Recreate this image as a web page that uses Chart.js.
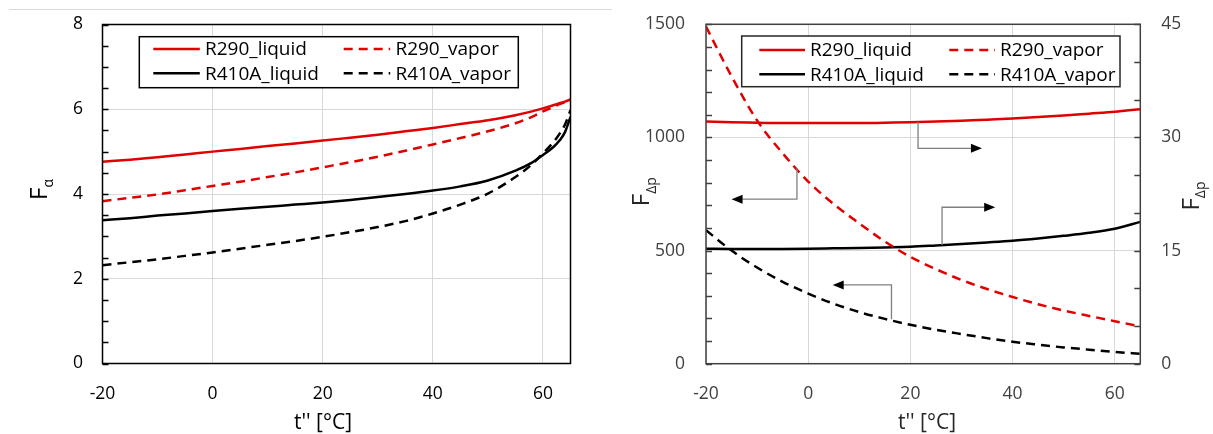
<!DOCTYPE html>
<html>
<head>
<meta charset="utf-8">
<title>F_alpha and F_dp vs t''</title>
<script src="https://cdn.jsdelivr.net/npm/chart.js@4.4.0/dist/chart.umd.min.js"></script>
<style>
  html, body { margin: 0; padding: 0; background: #fff; }
  body { width: 1213px; height: 434px; position: relative; overflow: hidden; }
  .panel { position: absolute; top: 0; height: 434px; }
  #leftPanel { left: 0; width: 610px; }
  #rightPanel { left: 610px; width: 603px; }
  .rule { position: absolute; left: 9px; top: 9px; width: 603px; border-top: 1px solid #dadada; }
</style>
</head>
<body>
<div class="rule"></div>
<div class="panel" id="leftPanel"><canvas id="alphaChart"></canvas></div>
<div class="panel" id="rightPanel"><canvas id="dpChart"></canvas></div>
<script>
// saturation temperature t'' [°C]
const tAlpha = [-20, -15, -10, -5, 0, 5, 10, 15, 20, 25, 30, 35, 40, 45, 50, 55, 58, 60, 62, 63, 64, 65];
const tDp = [-20, -15, -10, -5, 0, 5, 10, 15, 20, 25, 30, 35, 40, 45, 50, 55, 60, 65];

// F_alpha (left panel)
const r290LiquidAlpha = [4.76, 4.81, 4.87, 4.93, 5.00, 5.06, 5.13, 5.19, 5.26, 5.33, 5.40, 5.48, 5.56, 5.65, 5.74, 5.86, 5.95, 6.02, 6.10, 6.14, 6.18, 6.23];
const r290VaporAlpha = [3.83, 3.91, 3.99, 4.09, 4.19, 4.29, 4.40, 4.51, 4.63, 4.75, 4.88, 5.02, 5.17, 5.32, 5.48, 5.67, 5.82, 5.95, 6.06, 6.12, 6.17, 6.22];
const r410aLiquidAlpha = [3.38, 3.43, 3.49, 3.54, 3.60, 3.65, 3.70, 3.75, 3.80, 3.86, 3.93, 4.00, 4.08, 4.18, 4.32, 4.55, 4.74, 4.92, 5.12, 5.26, 5.46, 5.82];
const r410aVaporAlpha = [2.32, 2.39, 2.46, 2.54, 2.62, 2.71, 2.80, 2.89, 2.99, 3.10, 3.22, 3.36, 3.54, 3.75, 4.01, 4.40, 4.70, 4.96, 5.24, 5.42, 5.64, 5.98];

// F_dp (right panel): liquid on the right axis, vapor on the left axis
const r290LiquidDp = [32.1, 32.0, 31.95, 31.9, 31.9, 31.9, 31.9, 31.95, 32.0, 32.1, 32.2, 32.35, 32.5, 32.7, 32.9, 33.15, 33.4, 33.75];
const r290VaporDp = [1490, 1270, 1075, 930, 805, 705, 620, 540, 472, 418, 370, 330, 295, 263, 235, 211, 188, 165];
const r410aLiquidDp = [15.25, 15.22, 15.2, 15.22, 15.25, 15.3, 15.35, 15.42, 15.5, 15.68, 15.88, 16.08, 16.3, 16.6, 16.95, 17.35, 17.9, 18.8];
const r410aVaporDp = [590, 500, 425, 362, 310, 265, 228, 198, 172, 150, 131, 113, 97, 84, 72, 62, 52, 44];

const seriesNames = ['R290_liquid', 'R290_vapor', 'R410A_liquid', 'R410A_vapor'];

// pointer arrows: curve -> axis (x in °C, from/bend in units of the given axis)
const dpArrows = [
  { axis: 'y', x: -2.2, from: 864, bend: 727, tip: -15.0 },
  { axis: 'y1', x: 21.5, from: 32.05, bend: 28.56, tip: 34.0 },
  { axis: 'y1', x: 26.2, from: 15.75, bend: 20.74, tip: 36.6 },
  { axis: 'y', x: 16.3, from: 196, bend: 348, tip: 4.8 }
];

const FONT = "'Open Sans', 'DejaVu Sans', sans-serif";
const RED = '#e00000';
const BLACK = '#000000';
const DASH = [9, 6];

function toPoints(xs, ys) {
  return xs.map((x, i) => ({ x: x, y: ys[i] }));
}

function makeSet(label, xs, ys, color, dashed, axis) {
  return {
    label: label,
    data: toPoints(xs, ys),
    borderColor: color,
    borderDash: dashed ? DASH : [],
    borderWidth: 2.5,
    yAxisID: axis || 'y'
  };
}

function drawText(ctx, base, sub, cx, cy, vertical, size, subSize, color) {
  ctx.save();
  ctx.translate(cx, cy);
  if (vertical) ctx.rotate(-Math.PI / 2);
  ctx.fillStyle = color;
  ctx.textAlign = 'left';
  ctx.textBaseline = 'alphabetic';
  ctx.font = size + 'px ' + FONT;
  const wBase = ctx.measureText(base).width;
  ctx.font = subSize + 'px ' + FONT;
  const wSub = sub ? ctx.measureText(sub).width : 0;
  const x0 = -(wBase + wSub) / 2;
  const baseY = size * 0.357;
  ctx.font = size + 'px ' + FONT;
  ctx.fillText(base, x0, baseY);
  if (sub) {
    ctx.font = subSize + 'px ' + FONT;
    ctx.fillText(sub, x0 + wBase, baseY + subSize * 0.45);
  }
  ctx.restore();
}

function drawLegend(chart, cfg) {
  const ctx = chart.ctx;
  const a = chart.chartArea;
  const x = a.left + cfg.dx, y = a.top + cfg.dy;
  ctx.save();
  ctx.fillStyle = '#fff';
  ctx.fillRect(x, y, cfg.w, cfg.h);
  ctx.strokeStyle = cfg.color;
  ctx.lineWidth = 1.5;
  ctx.strokeRect(x, y, cfg.w, cfg.h);
  chart.data.datasets.forEach((ds, i) => {
    const lx = x + cfg.colX[i % 2];
    const ly = y + cfg.rowY[Math.floor(i / 2)];
    ctx.beginPath();
    ctx.setLineDash(ds.borderDash);
    ctx.strokeStyle = ds.borderColor;
    ctx.lineWidth = ds.borderWidth;
    ctx.moveTo(lx, ly);
    ctx.lineTo(lx + cfg.sample, ly);
    ctx.stroke();
    ctx.setLineDash([]);
    ctx.fillStyle = cfg.textColor;
    ctx.font = '19px ' + FONT;
    ctx.textAlign = 'left';
    ctx.textBaseline = 'middle';
    ctx.fillText(ds.label, lx + cfg.sample + cfg.gap, ly + 1);
  });
  ctx.restore();
}

function drawArrows(chart, list) {
  const ctx = chart.ctx;
  const xs = chart.scales.x;
  ctx.save();
  list.forEach(ar => {
    const ys = chart.scales[ar.axis];
    const px = xs.getPixelForValue(ar.x);
    const py0 = ys.getPixelForValue(ar.from);
    const py1 = ys.getPixelForValue(ar.bend);
    const tx = xs.getPixelForValue(ar.tip);
    const dir = tx > px ? 1 : -1;
    ctx.beginPath();
    ctx.strokeStyle = '#808080';
    ctx.lineWidth = 1.3;
    ctx.moveTo(px, py0);
    ctx.lineTo(px, py1);
    ctx.lineTo(tx - dir * 10, py1);
    ctx.stroke();
    ctx.beginPath();
    ctx.fillStyle = '#000';
    ctx.moveTo(tx, py1);
    ctx.lineTo(tx - dir * 11, py1 - 4.5);
    ctx.lineTo(tx - dir * 11, py1 + 4.5);
    ctx.closePath();
    ctx.fill();
  });
  ctx.restore();
}

// frame, inward minor ticks, legend, arrows and axis titles
const panelDecor = {
  id: 'panelDecor',
  afterDatasetsDraw(chart, args, opts) {
    const ctx = chart.ctx;
    const a = chart.chartArea;
    ctx.save();
    ctx.strokeStyle = opts.frameColor;
    ctx.lineWidth = 1.5;
    (opts.minorTicks || []).forEach(mt => {
      const s = chart.scales[mt.axis];
      const x0 = mt.side === 'left' ? a.left : a.right;
      const dx = mt.side === 'left' ? 6 : -6;
      for (let v = s.min; v <= s.max + 1e-9; v += mt.step) {
        const py = Math.round(s.getPixelForValue(v)) + 0.5;
        ctx.beginPath();
        ctx.moveTo(x0, py);
        ctx.lineTo(x0 + dx, py);
        ctx.stroke();
      }
    });
    ctx.strokeRect(a.left, a.top, a.right - a.left, a.bottom - a.top);
    ctx.restore();
    if (opts.arrows) drawArrows(chart, opts.arrows);
    drawLegend(chart, opts.legend);
  },
  afterDraw(chart, args, opts) {
    (opts.titles || []).forEach(t => {
      drawText(chart.ctx, t.text, t.sub, t.x, t.y, t.vertical, t.size, 14, opts.textColor);
    });
  }
};

const plainNumber = v => String(v);

// the label gap comes from an invisible tick mark so it does not widen the scale padding
function axisX(color) {
  return {
    type: 'linear',
    min: -20,
    max: 65,
    ticks: { stepSize: 20, includeBounds: false, padding: 2, color: color, font: { family: FONT, size: 17.5 }, callback: plainNumber },
    grid: { color: '#d9d9d9', lineWidth: 1, drawTicks: true, tickLength: 18, tickColor: 'rgba(0,0,0,0)' },
    border: { display: false },
    afterFit: s => { s.height = 50; }
  };
}

function axisY(min, max, step, color, gap, width, position) {
  return {
    type: 'linear',
    position: position,
    min: min,
    max: max,
    ticks: { stepSize: step, includeBounds: false, padding: 2, color: color, font: { family: FONT, size: 17.5 }, callback: plainNumber },
    grid: { display: true, drawOnChartArea: position === 'left', color: '#d9d9d9', lineWidth: 1, drawTicks: true, tickLength: gap - 2, tickColor: 'rgba(0,0,0,0)' },
    border: { display: false },
    afterFit: s => { s.width = width; }
  };
}

const baseOptions = {
  responsive: true,
  maintainAspectRatio: false,
  animation: false,
  events: [],
  elements: { point: { radius: 0 }, line: { cubicInterpolationMode: 'monotone' } }
};

new Chart(document.getElementById('alphaChart'), {
  type: 'line',
  data: {
    datasets: [
      makeSet(seriesNames[0], tAlpha, r290LiquidAlpha, RED, false),
      makeSet(seriesNames[1], tAlpha, r290VaporAlpha, RED, true),
      makeSet(seriesNames[2], tAlpha, r410aLiquidAlpha, BLACK, false),
      makeSet(seriesNames[3], tAlpha, r410aVaporAlpha, BLACK, true)
    ]
  },
  options: Object.assign({}, baseOptions, {
    layout: { padding: { left: 0, top: 24.5, right: 39.5, bottom: 20.5 } },
    scales: {
      x: axisX('#000'),
      y: axisY(0, 8, 2, '#000', 19.5, 102.5, 'left')
    },
    plugins: {
      legend: { display: false },
      tooltip: { enabled: false },
      panelDecor: {
        frameColor: '#000',
        textColor: '#000',
        minorTicks: [{ axis: 'y', step: 0.5, side: 'left' }],
        legend: { dx: 36.8, dy: 12.2, w: 379, h: 51, colX: [14, 204.4], rowY: [12.3, 36.6], sample: 46.5, gap: 5.2, color: '#000', textColor: '#000' },
        titles: [
          { text: 'F', sub: 'α', x: 38.5, y: 189.5, vertical: true, size: 24 },
          { text: "t'' [°C]", sub: '', x: 323, y: 421.5, vertical: false, size: 21 }
        ]
      }
    }
  }),
  plugins: [panelDecor]
});

new Chart(document.getElementById('dpChart'), {
  type: 'line',
  data: {
    datasets: [
      makeSet(seriesNames[0], tDp, r290LiquidDp, RED, false, 'y1'),
      makeSet(seriesNames[1], tDp, r290VaporDp, RED, true, 'y'),
      makeSet(seriesNames[2], tDp, r410aLiquidDp, BLACK, false, 'y1'),
      makeSet(seriesNames[3], tDp, r410aVaporDp, BLACK, true, 'y')
    ]
  },
  options: Object.assign({}, baseOptions, {
    layout: { padding: { left: 0, top: 24.3, right: 32.7, bottom: 20.3 } },
    scales: {
      x: axisX('#404040'),
      y: axisY(0, 1500, 500, '#404040', 21, 96, 'left'),
      y1: axisY(0, 45, 15, '#404040', 21, 40, 'right')
    },
    plugins: {
      legend: { display: false },
      tooltip: { enabled: false },
      panelDecor: {
        frameColor: '#404040',
        textColor: '#262626',
        arrows: dpArrows,
        minorTicks: [
          { axis: 'y', step: 100, side: 'left' },
          { axis: 'y1', step: 5, side: 'right' }
        ],
        legend: { dx: 35.7, dy: 11.7, w: 378.3, h: 50.7, colX: [17.6, 207.6], rowY: [14, 38.3], sample: 45.7, gap: 5, color: '#262626', textColor: '#000' },
        titles: [
          { text: 'F', sub: 'Δp', x: 30.8, y: 191.7, vertical: true, size: 24 },
          { text: 'F', sub: 'Δp', x: 580, y: 196, vertical: true, size: 24 },
          { text: "t'' [°C]", sub: '', x: 317, y: 421.5, vertical: false, size: 21 }
        ]
      }
    }
  }),
  plugins: [panelDecor]
});
</script>
</body>
</html>
